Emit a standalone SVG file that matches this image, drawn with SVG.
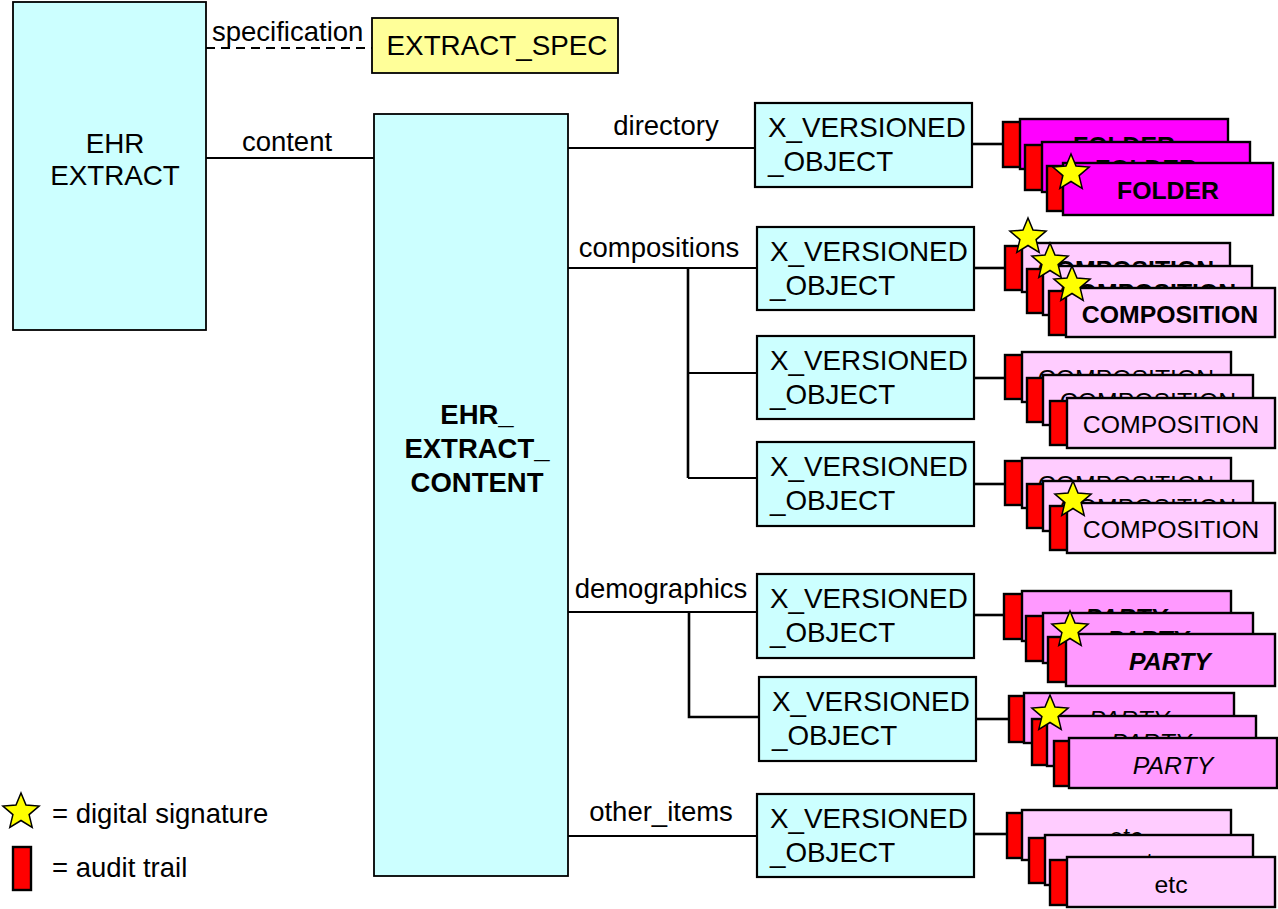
<svg xmlns="http://www.w3.org/2000/svg" width="1278" height="909" viewBox="0 0 1278 909">
<style>
text{font-family:"Liberation Sans",Arial,sans-serif;fill:#000}
.big{fill:#CCFFFF;stroke:#000;stroke-width:1.8}
.xv{fill:#CCFFFF;stroke:#000;stroke-width:2.2}
.spec{fill:#FFFF99;stroke:#000;stroke-width:1.8}
.ln{fill:none;stroke:#000;stroke-width:1.8}
.br{fill:none;stroke:#000;stroke-width:2.6}
.lbl{font-size:27.5px}
.xt{font-size:27.8px}
.ct{font-size:27.5px;font-weight:bold;text-anchor:middle}
.red{fill:#FF0000;stroke:#000;stroke-width:2.4}
.fold{fill:#FF00FF;stroke:#000;stroke-width:2.4}
.comp{fill:#FFCCFF;stroke:#000;stroke-width:2.4}
.party{fill:#FF99FF;stroke:#000;stroke-width:2.4}
.ctx{font-size:24.8px;text-anchor:middle}
.b{font-weight:bold}
.i{font-style:italic}
.star{fill:#FFFF00;stroke:#000;stroke-width:1.5;stroke-linejoin:miter}
</style>
<defs>
<path id="star" d="M0,-19 L5,-6.9 L18.1,-5.9 L8.1,2.6 L11.2,15.4 L0,8.5 L-11.2,15.4 L-8.1,2.6 L-18.1,-5.9 L-5,-6.9 Z"/>
</defs>

<g id="connectors">
<path class="ln" d="M206,48 H372" stroke-dasharray="9,6"/>
<path class="ln" d="M206,158 H374"/>
<path class="ln" d="M568,148 H755"/>
<path class="ln" d="M568,268 H757"/>
<path class="br" d="M688,268 V478"/>
<path class="ln" d="M688,373 H757"/>
<path class="ln" d="M688,478 H757"/>
<path class="ln" d="M568,612 H757"/>
<path class="br" d="M689,612 V717 H759"/>
<path class="ln" d="M568,836 H757"/>
<path class="br" d="M972,144 H1004"/>
<path class="br" d="M974,268 H1006"/>
<path class="br" d="M974,378 H1006"/>
<path class="br" d="M974,484 H1006"/>
<path class="br" d="M974,615 H1006"/>
<path class="br" d="M976,719 H1008"/>
<path class="br" d="M974,834 H1006"/>
<text class="lbl" x="212" y="41">specification</text>
<text class="lbl" x="287" y="151" text-anchor="middle">content</text>
<text class="lbl" x="666" y="135" text-anchor="middle">directory</text>
<text class="lbl" x="659" y="257" text-anchor="middle">compositions</text>
<text class="lbl" x="661" y="598" text-anchor="middle">demographics</text>
<text class="lbl" x="661" y="821" text-anchor="middle">other_items</text>
</g>

<g id="ehr_extract">
<rect class="big" x="13" y="2" width="193" height="328"/>
<text class="xt" x="115" y="153" text-anchor="middle">EHR</text>
<text class="xt" x="115" y="185" text-anchor="middle">EXTRACT</text>
</g>

<g id="extract_spec">
<rect class="spec" x="372" y="18" width="246" height="55"/>
<text class="xt" x="497" y="55" text-anchor="middle">EXTRACT_SPEC</text>
</g>

<g id="ehr_extract_content">
<rect class="big" x="374" y="114" width="194" height="762"/>
<text class="ct" x="477" y="424">EHR_</text>
<text class="ct" x="477" y="458">EXTRACT_</text>
<text class="ct" x="477" y="492">CONTENT</text>
</g>

<g id="xvo_directory">
<rect class="xv" x="755" y="103" width="217" height="84"/>
<text class="xt" x="768" y="137">X_VERSIONED</text>
<text class="xt" x="768" y="171">_OBJECT</text>
</g>
<g id="xvo_comp1">
<rect class="xv" x="757" y="227" width="217" height="83"/>
<text class="xt" x="770" y="261">X_VERSIONED</text>
<text class="xt" x="770" y="295">_OBJECT</text>
</g>
<g id="xvo_comp2">
<rect class="xv" x="757" y="336" width="217" height="83"/>
<text class="xt" x="770" y="370">X_VERSIONED</text>
<text class="xt" x="770" y="404">_OBJECT</text>
</g>
<g id="xvo_comp3">
<rect class="xv" x="757" y="442" width="217" height="84"/>
<text class="xt" x="770" y="476">X_VERSIONED</text>
<text class="xt" x="770" y="510">_OBJECT</text>
</g>
<g id="xvo_dem1">
<rect class="xv" x="757" y="574" width="217" height="84"/>
<text class="xt" x="770" y="608">X_VERSIONED</text>
<text class="xt" x="770" y="642">_OBJECT</text>
</g>
<g id="xvo_dem2">
<rect class="xv" x="759" y="677" width="217" height="84"/>
<text class="xt" x="772" y="711">X_VERSIONED</text>
<text class="xt" x="772" y="745">_OBJECT</text>
</g>
<g id="xvo_other">
<rect class="xv" x="757" y="794" width="217" height="83"/>
<text class="xt" x="770" y="828">X_VERSIONED</text>
<text class="xt" x="770" y="862">_OBJECT</text>
</g>

<g id="folders">
<rect class="red" x="1003" y="122" width="20" height="45"/>
<rect class="fold" x="1020" y="119" width="208" height="50"/>
<text class="ctx b" x="1124" y="154">FOLDER</text>
<rect class="red" x="1025" y="145" width="20" height="45"/>
<rect class="fold" x="1042" y="142" width="208" height="50"/>
<text class="ctx b" x="1146" y="177">FOLDER</text>
<rect class="red" x="1047" y="166" width="20" height="45"/>
<rect class="fold" x="1063" y="163" width="210" height="52"/>
<text class="ctx b" x="1168" y="199">FOLDER</text>
<use href="#star" class="star" transform="translate(1071,173)"/>
</g>

<g id="compositions1">
<rect class="red" x="1005" y="246" width="20" height="44"/>
<rect class="comp" x="1022" y="243" width="208" height="49"/>
<text class="ctx b" x="1126" y="278">COMPOSITION</text>
<rect class="red" x="1027" y="269" width="20" height="44"/>
<rect class="comp" x="1043" y="266" width="209" height="49"/>
<text class="ctx b" x="1148" y="301">COMPOSITION</text>
<rect class="red" x="1049" y="291" width="20" height="44"/>
<rect class="comp" x="1066" y="288" width="209" height="49"/>
<text class="ctx b" x="1170" y="323">COMPOSITION</text>
<use href="#star" class="star" transform="translate(1028,237)"/>
<use href="#star" class="star" transform="translate(1050,262)"/>
<use href="#star" class="star" transform="translate(1072,285)"/>
</g>

<g id="compositions2">
<rect class="red" x="1005" y="355" width="20" height="44"/>
<rect class="comp" x="1022" y="352" width="209" height="50"/>
<text class="ctx" x="1126" y="387">COMPOSITION</text>
<rect class="red" x="1027" y="378" width="20" height="44"/>
<rect class="comp" x="1043" y="375" width="210" height="50"/>
<text class="ctx" x="1148" y="410">COMPOSITION</text>
<rect class="red" x="1050" y="401" width="20" height="44"/>
<rect class="comp" x="1067" y="398" width="208" height="50"/>
<text class="ctx" x="1171" y="433">COMPOSITION</text>
</g>

<g id="compositions3">
<rect class="red" x="1005" y="461" width="20" height="44"/>
<rect class="comp" x="1022" y="458" width="209" height="50"/>
<text class="ctx" x="1126" y="493">COMPOSITION</text>
<rect class="red" x="1027" y="484" width="20" height="44"/>
<rect class="comp" x="1043" y="481" width="210" height="50"/>
<text class="ctx" x="1148" y="516">COMPOSITION</text>
<rect class="red" x="1050" y="506" width="20" height="44"/>
<rect class="comp" x="1067" y="503" width="208" height="50"/>
<text class="ctx" x="1171" y="538">COMPOSITION</text>
<use href="#star" class="star" transform="translate(1073,500)"/>
</g>

<g id="parties1">
<rect class="red" x="1004" y="594" width="20" height="45"/>
<rect class="party" x="1022" y="591" width="209" height="50"/>
<text class="ctx b i" x="1126" y="626">PARTY</text>
<rect class="red" x="1026" y="616" width="20" height="45"/>
<rect class="party" x="1043" y="613" width="210" height="50"/>
<text class="ctx b i" x="1148" y="648">PARTY</text>
<rect class="red" x="1048" y="637" width="20" height="45"/>
<rect class="party" x="1066" y="634" width="209" height="52"/>
<text class="ctx b i" x="1170" y="670">PARTY</text>
<use href="#star" class="star" transform="translate(1070,630)"/>
</g>

<g id="parties2">
<rect class="red" x="1009" y="696" width="20" height="46"/>
<rect class="party" x="1024" y="693" width="210" height="50"/>
<text class="ctx i" x="1129" y="728">PARTY</text>
<rect class="red" x="1032" y="719" width="20" height="46"/>
<rect class="party" x="1047" y="716" width="209" height="50"/>
<text class="ctx i" x="1151" y="751">PARTY</text>
<rect class="red" x="1054" y="741" width="20" height="45"/>
<rect class="party" x="1069" y="738" width="208" height="50"/>
<text class="ctx i" x="1173" y="774">PARTY</text>
<use href="#star" class="star" transform="translate(1050,714)"/>
</g>

<g id="etc">
<rect class="red" x="1007" y="813" width="20" height="45"/>
<rect class="comp" x="1022" y="810" width="209" height="50"/>
<text class="ctx" x="1126" y="845">etc</text>
<rect class="red" x="1029" y="838" width="20" height="45"/>
<rect class="comp" x="1045" y="835" width="208" height="50"/>
<text class="ctx" x="1149" y="870">etc</text>
<rect class="red" x="1050" y="860" width="20" height="45"/>
<rect class="comp" x="1067" y="857" width="208" height="50"/>
<text class="ctx" x="1171" y="893">etc</text>
</g>

<g id="legend">
<use href="#star" class="star" transform="translate(21,812)"/>
<text class="lbl" x="52" y="823">= digital signature</text>
<rect class="red" x="13" y="847" width="18" height="43"/>
<text class="lbl" x="52" y="877">= audit trail</text>
</g>
</svg>
